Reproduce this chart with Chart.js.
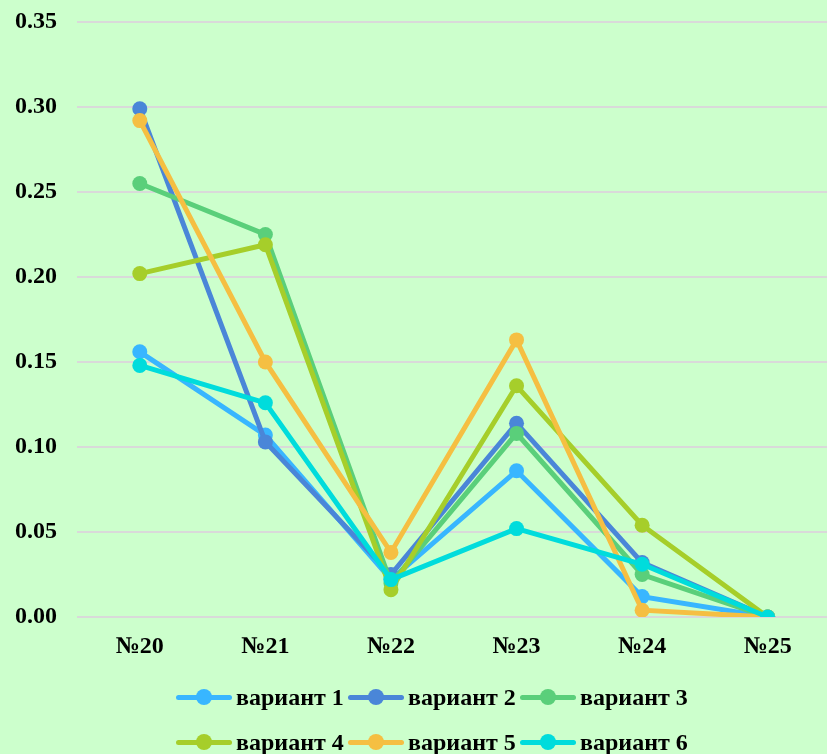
<!DOCTYPE html>
<html>
<head>
<meta charset="utf-8">
<script src="https://cdn.jsdelivr.net/npm/chart.js@4/dist/chart.umd.min.js"></script>
<style>
  html, body { margin: 0; padding: 0; background: #ccffcc; overflow: hidden; width: 827px; height: 754px; }
  #wrap { position: relative; width: 838px; height: 754px; }
  #legend { position: absolute; left: 176px; top: 683px; font: bold 24px "Liberation Serif", "Times New Roman", serif; color: #000; }
  .row { display: flex; height: 28px; align-items: center; margin-bottom: 17px; }
  .item { display: flex; align-items: center; width: 172px; }
  .mk { position: relative; width: 56px; height: 16px; margin-right: 4px; }
  .mk .ln { position: absolute; left: 0; right: 0; top: 5.5px; height: 5px; border-radius: 3px; }
  .mk .dt { position: absolute; left: 20px; top: 0; width: 16px; height: 16px; border-radius: 50%; }
</style>
</head>
<body>
<div id="wrap">
  <canvas id="c" width="838" height="754"></canvas>
  <div id="legend"></div>
</div>
<script>
const categories = ["№20", "№21", "№22", "№23", "№24", "№25"];
const seriesNames = ["вариант 1", "вариант 2", "вариант 3", "вариант 4", "вариант 5", "вариант 6"];
const variant1 = [0.156, 0.107, 0.022, 0.086, 0.012, 0];
const variant2 = [0.299, 0.103, 0.025, 0.114, 0.032, 0];
const variant3 = [0.255, 0.225, 0.020, 0.108, 0.025, 0];
const variant4 = [0.202, 0.219, 0.016, 0.136, 0.054, 0];
const variant5 = [0.292, 0.150, 0.038, 0.163, 0.004, 0];
const variant6 = [0.148, 0.126, 0.022, 0.052, 0.031, 0];
const yTickMin = 0, yTickMax = 0.35, yTickStep = 0.05;

const colors = ["#38b6ff", "#4a86d8", "#5acf7a", "#a6ce2a", "#f5bf42", "#00dcdc"];
const allSeries = [variant1, variant2, variant3, variant4, variant5, variant6];

const FONT = { family: '"Liberation Serif", "Times New Roman", serif', size: 24, weight: 'bold' };

const datasets = allSeries.map((d, i) => ({
  label: seriesNames[i],
  data: d,
  borderColor: colors[i],
  backgroundColor: colors[i],
  pointBackgroundColor: colors[i],
  pointBorderColor: colors[i],
  borderWidth: 5,
  pointRadius: 7.5,
  pointBorderWidth: 0,
  tension: 0,
  order: 6 - i
}));

new Chart(document.getElementById('c'), {
  type: 'line',
  data: { labels: categories, datasets },
  options: {
    responsive: false,
    animation: false,
    devicePixelRatio: 1,
    layout: { padding: { top: 22, left: 15, right: 0, bottom: 87 } },
    plugins: { legend: { display: false }, tooltip: { enabled: false } },
    scales: {
      y: {
        min: yTickMin, max: yTickMax,
        ticks: { stepSize: yTickStep, color: '#000', font: FONT, padding: 0, crossAlign: 'far',
                 callback: v => Number(v).toFixed(2) },
        grid: { color: '#d9d9d9', lineWidth: 2, drawTicks: false },
        border: { display: false },
        afterFit: s => { s.width = 62; }
      },
      x: {
        offset: true,
        ticks: { color: '#000', font: FONT, padding: 15, maxRotation: 0 },
        grid: { display: false, drawTicks: false, offset: true },
        border: { display: false },
        afterFit: s => { s.height = 50; }
      }
    }
  }
});

// HTML legend built from the series names and colours
const lg = document.getElementById('legend');
for (let r = 0; r < 2; r++) {
  const row = document.createElement('div');
  row.className = 'row';
  for (let k = 0; k < 3; k++) {
    const i = r * 3 + k;
    const it = document.createElement('div');
    it.className = 'item';
    it.innerHTML = '<div class="mk"><div class="ln" style="background:' + colors[i] + '"></div><div class="dt" style="background:' + colors[i] + '"></div></div><span>' + seriesNames[i] + '</span>';
    row.appendChild(it);
  }
  lg.appendChild(row);
}
</script>
</body>
</html>
